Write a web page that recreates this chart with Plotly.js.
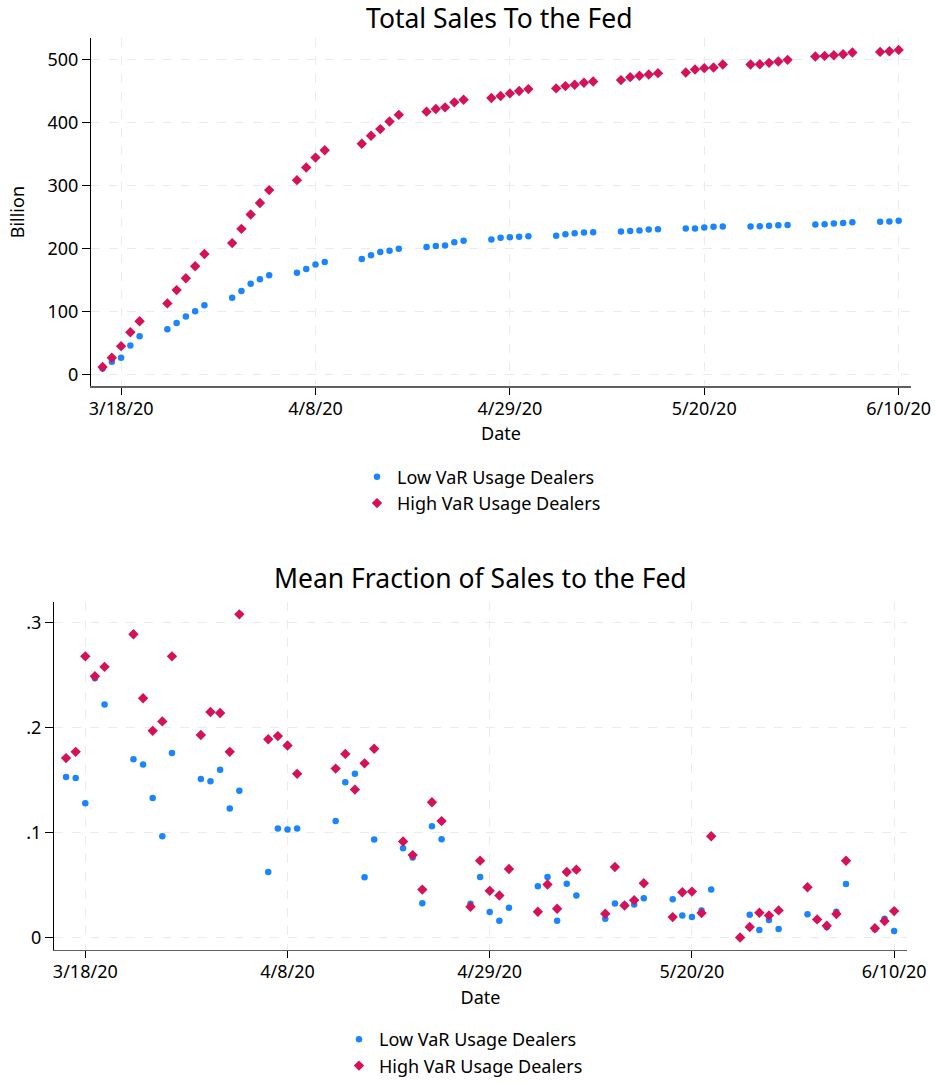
<!DOCTYPE html>
<html>
<head>
<meta charset="utf-8">
<script src="https://cdn.plot.ly/plotly-3.0.1.min.js"></script>
<style>
html,body{margin:0;padding:0;background:#fff;overflow:hidden;}
#chart{width:935px;height:1084px;}
</style>
</head>
<body>
<div id="chart"></div>
<script>
// Business days 3/16/2020 - 6/10/2020
const dates = [
  '2020-03-16','2020-03-17','2020-03-18','2020-03-19','2020-03-20',
  '2020-03-23','2020-03-24','2020-03-25','2020-03-26','2020-03-27',
  '2020-03-30','2020-03-31','2020-04-01','2020-04-02','2020-04-03',
  '2020-04-06','2020-04-07','2020-04-08','2020-04-09',
  '2020-04-13','2020-04-14','2020-04-15','2020-04-16','2020-04-17',
  '2020-04-20','2020-04-21','2020-04-22','2020-04-23','2020-04-24',
  '2020-04-27','2020-04-28','2020-04-29','2020-04-30','2020-05-01',
  '2020-05-04','2020-05-05','2020-05-06','2020-05-07','2020-05-08',
  '2020-05-11','2020-05-12','2020-05-13','2020-05-14','2020-05-15',
  '2020-05-18','2020-05-19','2020-05-20','2020-05-21','2020-05-22',
  '2020-05-25','2020-05-26','2020-05-27','2020-05-28','2020-05-29',
  '2020-06-01','2020-06-02','2020-06-03','2020-06-04','2020-06-05',
  '2020-06-08','2020-06-09','2020-06-10'
];

// Total sales to the Fed (billion, cumulative)
const lowSales = [
  9, 20, 26.3, 45.8, 60.5,
  71.6, 81.6, 91.6, 100, 109.5,
  121.6, 132.1, 143.7, 151.1, 157.4,
  161.1, 167.4, 174.2, 178.4,
  183.2, 188.9, 194.2, 196.3, 199.5,
  202, 203.6, 204.6, 209.9, 212,
  214.1, 216.8, 217.8, 218.4, 219.4,
  219.9, 222.6, 224.2, 225.2, 225.7,
  226.8, 227.8, 228.4, 230, 230.5,
  231.5, 231.5, 233.1, 234.2, 234.7,
  234.7, 235.2, 235.8, 236.8, 237.3,
  237.9, 238.4, 239.5, 240.5, 241.6,
  242.1, 242.6, 243.7
];
const highSales = [
  11.6, 26.3, 44.7, 66.8, 84.2,
  112.6, 133.7, 152.6, 171.6, 191.1,
  208.4, 231, 253.7, 272.1, 292.6,
  308.4, 328.4, 344.2, 355.8,
  366.3, 378.9, 389.5, 401.6, 412.1,
  417.2, 421.4, 424, 432, 436.2,
  438.8, 442, 446.2, 450, 453,
  454.1, 457.8, 460, 463, 465.2,
  467.3, 472, 474.2, 476.3, 478.4,
  479.4, 484.2, 486.3, 487.3, 492.1,
  492.1, 492.6, 494.7, 496.8, 499.5,
  504.7, 505.8, 506.9, 508.4, 511.1,
  512.1, 513.2, 515.3
];

// Mean fraction of sales to the Fed
const lowFrac = [
  0.153, 0.152, 0.128, 0.247, 0.222,
  0.170, 0.165, 0.133, 0.0966, 0.176,
  0.151, 0.149, 0.160, 0.123, 0.140,
  0.0625, 0.104, 0.103, 0.104,
  0.111, 0.148, 0.156, 0.0575, 0.0935,
  0.0852, 0.0763, 0.0328, 0.106, 0.0937,
  0.0322, 0.0578, 0.0243, 0.0161, 0.0284,
  0.049, 0.0578, 0.0161, 0.0512, 0.0401,
  0.018, 0.0325, 0.031, 0.0315, 0.0375,
  0.0366, 0.0211, 0.0195, 0.0259, 0.0457,
  0, 0.0218, 0.0072, 0.0167, 0.0082,
  0.0221, 0.017, 0.010, 0.0246, 0.0511,
  0.0078, 0.018, 0.0063
];
const highFrac = [
  0.171, 0.177, 0.268, 0.249, 0.258,
  0.289, 0.228, 0.197, 0.206, 0.268,
  0.193, 0.215, 0.214, 0.177, 0.308,
  0.189, 0.192, 0.183, 0.156,
  0.161, 0.175, 0.141, 0.166, 0.180,
  0.0915, 0.0786, 0.0457, 0.129, 0.111,
  0.0294, 0.0733, 0.0445, 0.0401, 0.0654,
  0.0246, 0.0505, 0.0275, 0.0625, 0.0647,
  0.0227, 0.0672, 0.0306, 0.0356, 0.0517,
  0.0195, 0.0432, 0.0438, 0.0233, 0.0966,
  0, 0.0100, 0.0237, 0.0211, 0.0259,
  0.048, 0.0173, 0.0113, 0.0224, 0.0732,
  0.0088, 0.0157, 0.0252
];

const seriesNames = ['Low VaR Usage Dealers', 'High VaR Usage Dealers'];
const xTickVals = ['2020-03-18','2020-04-08','2020-04-29','2020-05-20','2020-06-10'];
const xTickText = ['3/18/20','4/8/20','4/29/20','5/20/20','6/10/20'];
const yTickVals1 = [0, 100, 200, 300, 400, 500];
const yTickText1 = ['0', '100', '200', '300', '400', '500'];
const yTickVals2 = [0, 0.1, 0.2, 0.3];
const yTickText2 = ['0', '.1', '.2', '.3'];
const titles = ['Total Sales To the Fed', 'Mean Fraction of Sales to the Fed'];

const BLUE = '#1A85FF', RED = '#D41159';
const W = 935, H = 1084;
const FONT = 'Noto Sans, Open Sans, sans-serif';

function mk(y, idx, xa, ya, lg) {
  return {
    x: dates, y: y, type: 'scatter', mode: 'markers',
    name: seriesNames[idx], xaxis: xa, yaxis: ya, legend: lg,
    marker: idx === 0 ? {color: BLUE, size: 6.5, symbol: 'circle'}
                      : {color: RED, size: 8, symbol: 'diamond'},
    hoverinfo: 'x+y'
  };
}

const traces = [
  mk(lowSales, 0, 'x', 'y', 'legend'),
  mk(highSales, 1, 'x', 'y', 'legend'),
  mk(lowFrac, 0, 'x2', 'y2', 'legend2'),
  mk(highFrac, 1, 'x2', 'y2', 'legend2')
];

const xCommon = {
  type: 'date',
  range: ['2020-03-14 18:00', '2020-06-11 08:00'],
  tickmode: 'array', tickvals: xTickVals, ticktext: xTickText,
  ticks: 'outside', ticklen: 7, tickcolor: '#000', tickwidth: 1,
  ticklabelstandoff: -2,
  showline: true, linecolor: '#606060', linewidth: 1.5,
  showgrid: true, gridcolor: '#ebebeb', griddash: 'dash', gridwidth: 1,
  zeroline: false, automargin: false,
  tickfont: {size: 18, color: '#000'},
  title: {text: 'Date', font: {size: 18, color: '#000'}, standoff: 9}
};
const yCommon = {
  ticks: 'outside', ticklen: 8, tickcolor: '#000', tickwidth: 1,
  showline: true, linecolor: '#000', linewidth: 1,
  showgrid: true, gridcolor: '#ebebeb', griddash: 'dash', gridwidth: 1,
  zeroline: false, automargin: false,
  tickfont: {size: 18, color: '#000'}
};

const layout = {
  width: W, height: H,
  margin: {l: 0, r: 0, t: 0, b: 0},
  paper_bgcolor: '#fff', plot_bgcolor: '#fff',
  font: {family: FONT, size: 18, color: '#000'},
  showlegend: true,
  xaxis: Object.assign({}, xCommon, {domain: [91 / W, 911 / W], anchor: 'y'}),
  yaxis: Object.assign({}, yCommon, {
    domain: [1 - 389 / H, 1 - 38 / H], anchor: 'x',
    range: [-19.4, 534.6], tickmode: 'array', tickvals: yTickVals1, ticktext: yTickText1,
    title: {text: 'Billion', font: {size: 18, color: '#000'}, standoff: 18}
  }),
  xaxis2: Object.assign({}, xCommon, {domain: [54 / W, 907 / W], anchor: 'y2'}),
  yaxis2: Object.assign({}, yCommon, {
    domain: [1 - 956 / H, 1 - 606 / H], anchor: 'x2',
    range: [-0.0117, 0.3197], tickmode: 'array', tickvals: yTickVals2, ticktext: yTickText2
  }),
  legend: {
    x: 357 / W, xanchor: 'left', y: 1 - 461.5 / H, yanchor: 'top',
    bgcolor: 'rgba(0,0,0,0)', borderwidth: 0, font: {size: 18, color: '#000'},
    tracegroupgap: 0
  },
  legend2: {
    x: 339 / W, xanchor: 'left', y: 1 - 1028 / H, yanchor: 'top',
    bgcolor: 'rgba(0,0,0,0)', borderwidth: 0, font: {size: 18, color: '#000'},
    tracegroupgap: 0
  },
  annotations: [
    {text: titles[0], xref: 'paper', yref: 'paper', x: 499 / W, y: 1 - 18.5 / H,
     xanchor: 'center', yanchor: 'middle', showarrow: false, font: {size: 26.5, color: '#000'}},
    {text: titles[1], xref: 'paper', yref: 'paper', x: 481 / W, y: 1 - 582 / H,
     xanchor: 'center', yanchor: 'middle', showarrow: false, font: {size: 26.5, color: '#000'}}
  ]
};

Plotly.newPlot('chart', traces, layout, {displayModeBar: false, staticPlot: true});
</script>
</body>
</html>
